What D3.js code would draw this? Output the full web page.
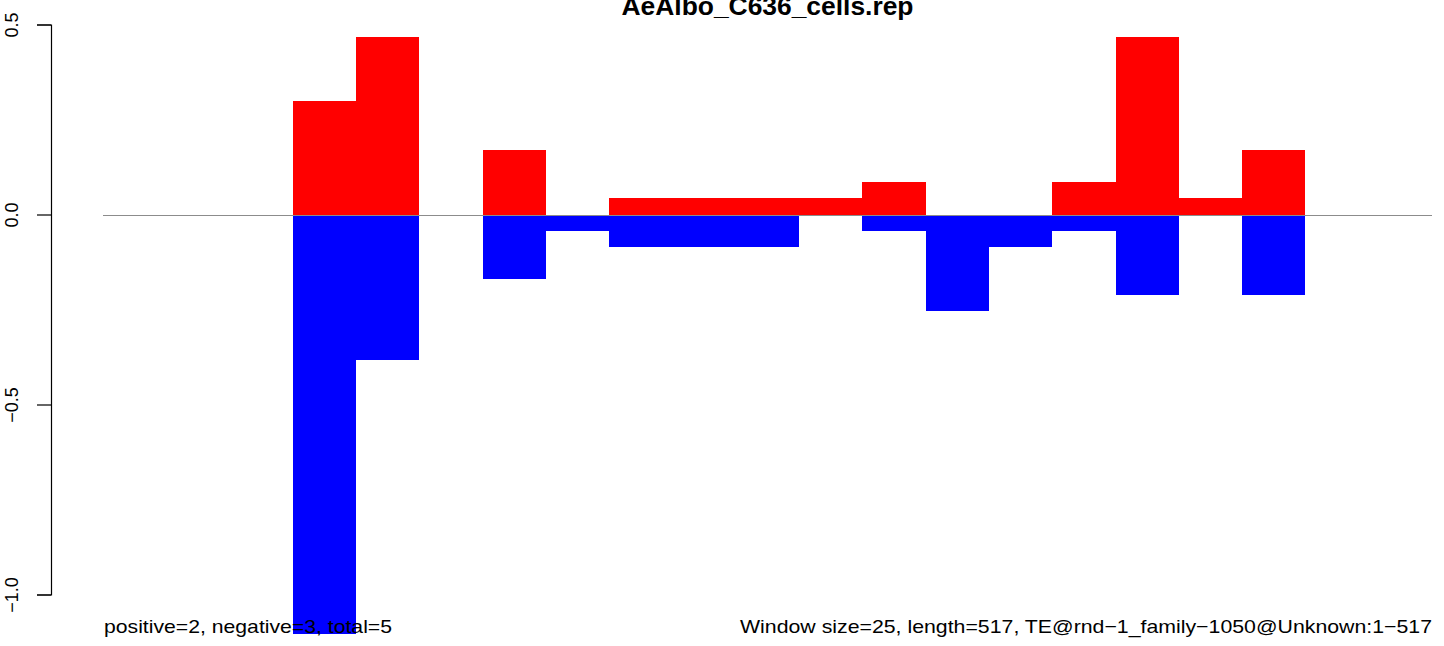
<!DOCTYPE html>
<html>
<head>
<meta charset="utf-8">
<script src="https://cdn.jsdelivr.net/npm/d3@7"></script>
<style>
body { margin: 0; background: #fff; }
svg { display: block; font-family: "Liberation Sans", Arial, sans-serif; }
</style>
</head>
<body>
<svg id="chart"></svg>
<script>
//chart text
var title = "AeAlbo_C636_cells.rep";
var leftNote = "positive=2, negative=3, total=5";
var rightNote = "Window size=25, length=517, TE@rnd\u22121_family\u22121050@Unknown:1\u2212517";

//window starts (bp), window size 25
var windowSize = 25;
var windowStart = [0, 25, 50, 75, 100, 125, 150, 175, 200, 225, 250, 275, 300, 325, 350, 375, 400, 425, 450, 475, 500];

//series values per window
var positive = [0, 0, 0, 0.2975, 0.4675, 0, 0.17, 0, 0.0425, 0.0425, 0.0425, 0.0425, 0.085, 0, 0, 0.085, 0.4675, 0.0425, 0.17, 0, 0];
var negative = [0, 0, 0, -1.105, -0.3825, 0, -0.17, -0.0425, -0.085, -0.085, -0.085, 0, -0.0425, -0.255, -0.085, -0.0425, -0.2125, 0, -0.2125, 0, 0];

//y ticks
var yTicks = [-1.0, -0.5, 0.0, 0.5];

//canvas info
var width = 1444;
var height = 646;

var svg = d3.select("#chart")
    .attr("width", width)
    .attr("height", height);

var x = d3.scaleLinear().domain([0, 525]).range([103, 1432]);
var y = d3.scaleLinear().domain([-1, 0.5]).range([594.5, 24.5]);

//negative bars first, positive on top
svg.append("g").selectAll("rect")
    .data(windowStart.map(function(s, i) { return {s: s, v: negative[i]}; }).filter(function(d) { return d.v != 0; }))
    .enter().append("rect")
    .attr("x", function(d) { return x(d.s); })
    .attr("width", function(d) { return x(d.s + windowSize) - x(d.s); })
    .attr("y", y(0))
    .attr("height", function(d) { return y(d.v) - y(0); })
    .attr("fill", "#0000ff")
    .attr("shape-rendering", "crispEdges");

svg.append("g").selectAll("rect")
    .data(windowStart.map(function(s, i) { return {s: s, v: positive[i]}; }).filter(function(d) { return d.v != 0; }))
    .enter().append("rect")
    .attr("x", function(d) { return x(d.s); })
    .attr("width", function(d) { return x(d.s + windowSize) - x(d.s); })
    .attr("y", function(d) { return y(d.v); })
    .attr("height", function(d) { return y(0) - y(d.v); })
    .attr("fill", "#ff0000")
    .attr("shape-rendering", "crispEdges");

//zero line
svg.append("line")
    .attr("x1", x(0)).attr("x2", x(525))
    .attr("y1", Math.round(y(0)) + 0.5).attr("y2", Math.round(y(0)) + 0.5)
    .attr("stroke", "#8c8c8c")
    .attr("stroke-width", 1);

//y axis
var axis = svg.append("g")
    .attr("transform", "translate(51,0)")
    .call(d3.axisLeft(y).tickValues(yTicks).tickSize(14).tickFormat(d3.format(".1f")));
axis.select(".domain").attr("stroke", "#000").attr("stroke-width", 1.2);
axis.selectAll(".tick line").attr("stroke", "#000").attr("stroke-width", 1.2);
axis.selectAll(".tick text")
    .attr("x", 0).attr("y", 0).attr("dy", 0)
    .attr("transform", "translate(-33,0) rotate(-90)")
    .attr("text-anchor", "middle")
    .attr("font-size", 18)
    .attr("font-family", "Liberation Sans, Arial, sans-serif")
    .attr("fill", "#000")
    .text(function(d) { return d3.format(".1f")(d).replace("-", "\u2212"); });

//title, cut off at the top like the original
svg.append("text")
    .attr("x", (x(0) + x(525)) / 2)
    .attr("y", 15)
    .attr("text-anchor", "middle")
    .attr("font-weight", "bold")
    .attr("font-size", 26)
    .attr("textLength", 292)
    .attr("lengthAdjust", "spacingAndGlyphs")
    .text(title);

//bottom notes
svg.append("text")
    .attr("x", 104)
    .attr("y", 633)
    .attr("font-size", 19)
    .attr("textLength", 288)
    .attr("lengthAdjust", "spacingAndGlyphs")
    .attr("fill", "#000")
    .text(leftNote);

svg.append("text")
    .attr("x", 740)
    .attr("y", 633)
    .attr("font-size", 19)
    .attr("textLength", 692)
    .attr("lengthAdjust", "spacingAndGlyphs")
    .attr("fill", "#000")
    .text(rightNote);
</script>
</body>
</html>
